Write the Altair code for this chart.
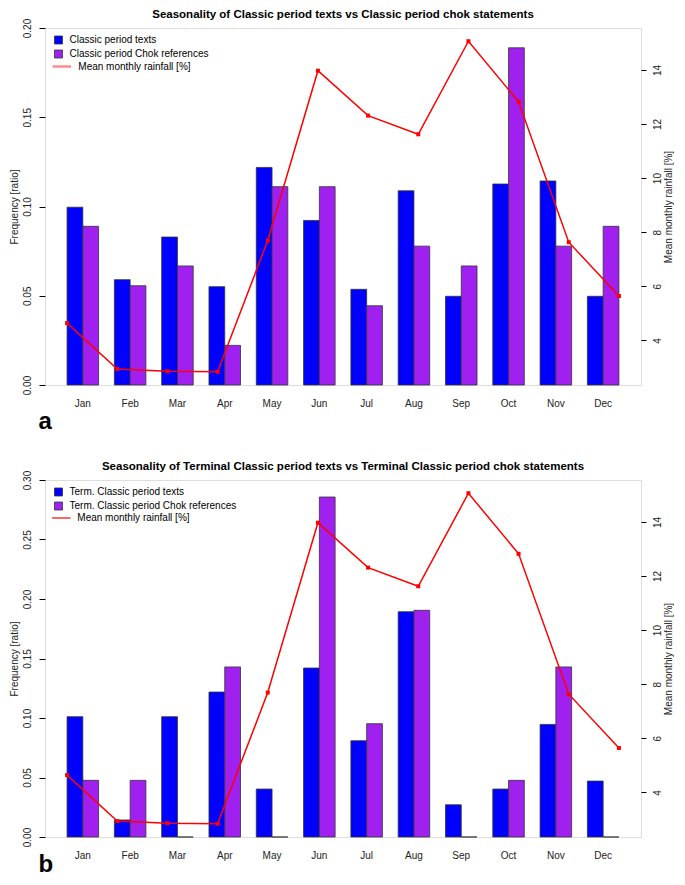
import altair as alt
import pandas as pd

months = ["Jan", "Feb", "Mar", "Apr", "May", "Jun", "Jul", "Aug", "Sep", "Oct", "Nov", "Dec"]
rainfall = [4.64, 2.94, 2.86, 2.84, 7.69, 13.97, 12.31, 11.62, 15.06, 12.82, 7.63, 5.64]

a_texts = [0.0996, 0.0590, 0.0829, 0.0551, 0.1219, 0.0922, 0.0536, 0.1088, 0.0497, 0.1126, 0.1143, 0.0497]
a_chok = [0.0889, 0.0556, 0.0667, 0.0222, 0.1111, 0.1111, 0.0444, 0.0778, 0.0667, 0.1889, 0.0778, 0.0889]
b_texts = [0.1011, 0.0143, 0.1011, 0.1218, 0.0403, 0.1420, 0.0809, 0.1893, 0.0271, 0.0403, 0.0946, 0.0470]
b_chok = [0.0476, 0.0476, 0.0, 0.1429, 0.0, 0.2857, 0.0952, 0.1905, 0.0, 0.0476, 0.1429, 0.0]

a_ticks = [0.0, 0.05, 0.10, 0.15, 0.20]
b_ticks = [0.0, 0.05, 0.10, 0.15, 0.20, 0.25, 0.30]
rain_ticks = [4, 6, 8, 10, 12, 14]

rain_label = "Mean monthly rainfall [%]"
FONT = "Liberation Sans"


def panel(title, tex_label, chok_label, texts, chok, ymax, yticks, letter, letter_y,
          leg_opacity, leg_width):
    bars_df = pd.DataFrame({
        "month": months * 2,
        "series": [tex_label] * 12 + [chok_label] * 12,
        "value": texts + chok,
    })
    rain_df = pd.DataFrame({"month": months, "rain": rainfall, "lab": [rain_label] * 12})
    lo, hi = min(rainfall), max(rainfall)
    r = hi - lo
    rdom = [lo - 0.04 * r, hi + 0.04 * r]

    bars = alt.Chart(bars_df).mark_bar(stroke="#333333", strokeWidth=0.8).encode(
        x=alt.X("month:N", sort=months,
                scale=alt.Scale(paddingInner=1 / 3, paddingOuter=1.4 / 3),
                axis=alt.Axis(title=letter, labelAngle=0, ticks=False, tickSize=0, domain=False,
                              grid=False, labelPadding=13, labelFontSize=10, labelColor="#222222",
                              titleFontSize=24, titleFontWeight="bold", titleColor="#000000",
                              titleAnchor="start", titleAlign="left", titleAngle=0,
                              titleX=-7, titleY=letter_y, titleBaseline="alphabetic")),
        xOffset=alt.XOffset("series:N", sort=[tex_label, chok_label]),
        y=alt.Y("value:Q", scale=alt.Scale(domain=[0, ymax], nice=False, zero=True),
                axis=alt.Axis(title="Frequency [ratio]", values=yticks, format=".2f",
                              labelAngle=270, labelAlign="center", labelBaseline="bottom",
                              tickSize=6, labelPadding=7, domain=False, grid=False,
                              titlePadding=3, titleFontSize=10, titleFontWeight="normal",
                              labelFontSize=10, tickColor="#000000", labelColor="#222222",
                              titleColor="#222222")),
        fill=alt.Fill("series:N", sort=[tex_label, chok_label],
                      scale=alt.Scale(domain=[tex_label, chok_label], range=["#0000FF", "#A020F0"]),
                      legend=alt.Legend(title=None, orient="none", legendX=8.5, legendY=7,
                                        symbolType="square", symbolSize=64,
                                        symbolStrokeColor="#333333", symbolStrokeWidth=0.8,
                                        labelFontSize=10, labelFont=FONT, labelColor="#000000",
                                        labelOffset=6, labelLimit=400, rowPadding=2, padding=0)),
    )

    x_rain = alt.X("month:N", sort=months, scale=alt.Scale(type="point", padding=0.44), axis=None)
    y_rain = alt.Y("rain:Q", scale=alt.Scale(domain=rdom, nice=False, zero=False),
                   axis=alt.Axis(orient="right", title=rain_label, values=rain_ticks, format="d",
                                 labelAngle=270, labelAlign="center", labelBaseline="top",
                                 tickSize=5, labelPadding=6, domain=False, grid=False,
                                 titleAngle=270, titleBaseline="top", titlePadding=1,
                                 titleFontSize=10, titleFontWeight="normal", labelFontSize=10,
                                 tickColor="#000000", labelColor="#222222", titleColor="#222222"))

    line = alt.Chart(rain_df).mark_line(strokeWidth=1.5).encode(
        x=x_rain, y=y_rain,
        stroke=alt.Stroke("lab:N", scale=alt.Scale(domain=[rain_label], range=["#FF0000"]),
                          legend=alt.Legend(title=None, orient="none", legendX=6.3, legendY=28,
                                            symbolType="stroke", symbolSize=340,
                                            symbolStrokeColor="#FF0000",
                                            symbolStrokeWidth=leg_width, symbolOpacity=leg_opacity,
                                            labelFontSize=10, labelFont=FONT, labelColor="#000000",
                                            labelOffset=6, labelLimit=400, padding=0)),
    )
    pts = alt.Chart(rain_df).mark_square(size=16, color="#FF0000", opacity=1).encode(x=x_rain, y=y_rain)

    return alt.layer(bars, alt.layer(line, pts)).resolve_scale(
        x="independent", y="independent"
    ).properties(
        width=596, height=357,
        title=alt.TitleParams(title, fontSize=11.5, fontWeight="bold", font=FONT,
                              anchor="middle", frame="group", offset=-2.5, color="#000000"),
    )


pa = panel("Seasonality of Classic period texts vs Classic period chok statements",
           "Classic period texts", "Classic period Chok references",
           a_texts, a_chok, 0.20, a_ticks, "a", 43, 0.45, 2.5)
pb = panel("Seasonality of Terminal Classic period texts vs Terminal Classic period chok statements",
           "Term. Classic period texts", "Term. Classic period Chok references",
           b_texts, b_chok, 0.30, b_ticks, "b", 34, 1.0, 1.2)

chart = alt.vconcat(pa, pb, spacing=26).resolve_scale(
    xOffset="independent", fill="independent", stroke="independent"
).resolve_legend(
    fill="independent", stroke="independent"
).properties(
    padding={"left": 0, "right": 0, "top": 0, "bottom": 0}
).configure_view(
    stroke="#333333", strokeWidth=1
).configure_axis(
    labelFont=FONT, titleFont=FONT
).configure_legend(
    labelFont=FONT
).configure(background="white")

chart.save("out.html", embed_options={"renderer": "svg", "actions": False})
